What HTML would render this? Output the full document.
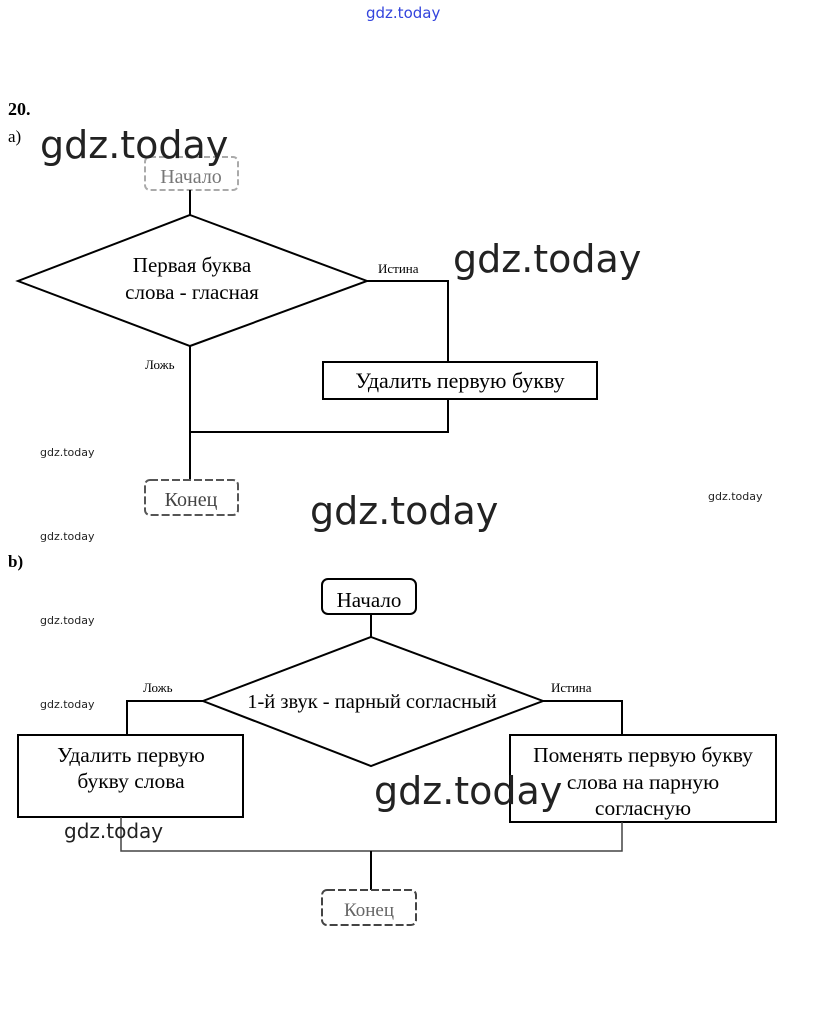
<!DOCTYPE html>
<html><head><meta charset="utf-8"><style>
body{margin:0;background:#fff;}
svg{display:block}
.t{font-family:"Liberation Serif",serif;fill:#000}
.w{font-family:"DejaVu Sans","Liberation Sans",sans-serif;fill:#222}
</style></head><body>
<svg width="815" height="1021" viewBox="0 0 815 1021" xmlns="http://www.w3.org/2000/svg">
<rect width="815" height="1021" fill="#fff"/>
<text x="366" y="18" class="w" font-size="15" style="fill:#3344dd">gdz.today</text>
<text x="8" y="115" class="t" font-size="18" font-weight="bold">20.</text>
<text x="8" y="142" class="t" font-size="17">a)</text>
<g stroke="#000" stroke-width="2" fill="none">
<rect x="145" y="157" width="93" height="33" rx="5" stroke="#aaa" stroke-dasharray="6 3"/>
<line x1="190" y1="190" x2="190" y2="215"/>
<polygon points="190,215 367,281 190,346 18,281" fill="#fff"/>
<polyline points="367,281 448,281 448,362"/>
<rect x="323" y="362" width="274" height="37"/>
<polyline points="448,399 448,432 190,432"/>
<line x1="190" y1="346" x2="190" y2="480"/>
<rect x="145" y="480" width="93" height="35" rx="5" stroke="#555" stroke-dasharray="8 3"/>
</g>
<text x="192" y="272" class="t" font-size="21" text-anchor="middle">Первая буква</text>
<text x="192" y="299" class="t" font-size="21" text-anchor="middle">слова - гласная</text>
<text x="378" y="273" class="t" font-size="13">Истина</text>
<text x="145" y="369" class="t" font-size="13">Ложь</text>
<text x="460" y="388" class="t" font-size="22" text-anchor="middle">Удалить первую букву</text>
<text x="191" y="183" class="t" font-size="20" text-anchor="middle" style="fill:#777">Начало</text>
<text x="191" y="506" class="t" font-size="20" text-anchor="middle" style="fill:#444">Конец</text>
<text x="8" y="567" class="t" font-size="17" font-weight="bold">b)</text>
<g stroke="#000" stroke-width="2" fill="none">
<rect x="322" y="579" width="94" height="35" rx="6"/>
<line x1="371" y1="614" x2="371" y2="637"/>
<polygon points="371,637 543,701 371,766 203,701" fill="#fff"/>
<polyline points="203,701 127,701 127,735"/>
<rect x="18" y="735" width="225" height="82"/>
<polyline points="543,701 622,701 622,735"/>
<rect x="510" y="735" width="266" height="87"/>
<polyline points="121,817 121,851 622,851 622,822" stroke="#444" stroke-width="1.5"/>
<line x1="371" y1="851" x2="371" y2="890"/>
<rect x="322" y="890" width="94" height="35" rx="5" stroke="#444" stroke-dasharray="8 3"/>
</g>
<text x="369" y="607" class="t" font-size="21" text-anchor="middle">Начало</text>
<text x="372" y="708" class="t" font-size="20.5" text-anchor="middle">1-й звук - парный согласный</text>
<text x="143" y="692" class="t" font-size="13">Ложь</text>
<text x="551" y="692" class="t" font-size="13">Истина</text>
<text x="131" y="762" class="t" font-size="21.5" text-anchor="middle">Удалить первую</text>
<text x="131" y="788" class="t" font-size="21.5" text-anchor="middle">букву слова</text>
<text x="643" y="762" class="t" font-size="21.5" text-anchor="middle">Поменять первую букву</text>
<text x="643" y="789" class="t" font-size="21.5" text-anchor="middle">слова на парную</text>
<text x="643" y="815" class="t" font-size="21.5" text-anchor="middle">согласную</text>
<text x="369" y="916" class="t" font-size="19" text-anchor="middle" style="fill:#666">Конец</text>
<g class="w">
<text x="40" y="158" font-size="38">gdz.today</text>
<text x="453" y="272" font-size="38">gdz.today</text>
<text x="310" y="524" font-size="38">gdz.today</text>
<text x="374" y="804" font-size="38">gdz.today</text>
<text x="64" y="838" font-size="20">gdz.today</text>
<text x="40" y="456" font-size="11">gdz.today</text>
<text x="40" y="540" font-size="11">gdz.today</text>
<text x="40" y="624" font-size="11">gdz.today</text>
<text x="40" y="708" font-size="11">gdz.today</text>
<text x="708" y="500" font-size="11">gdz.today</text>
</g>
</svg>
</body></html>
